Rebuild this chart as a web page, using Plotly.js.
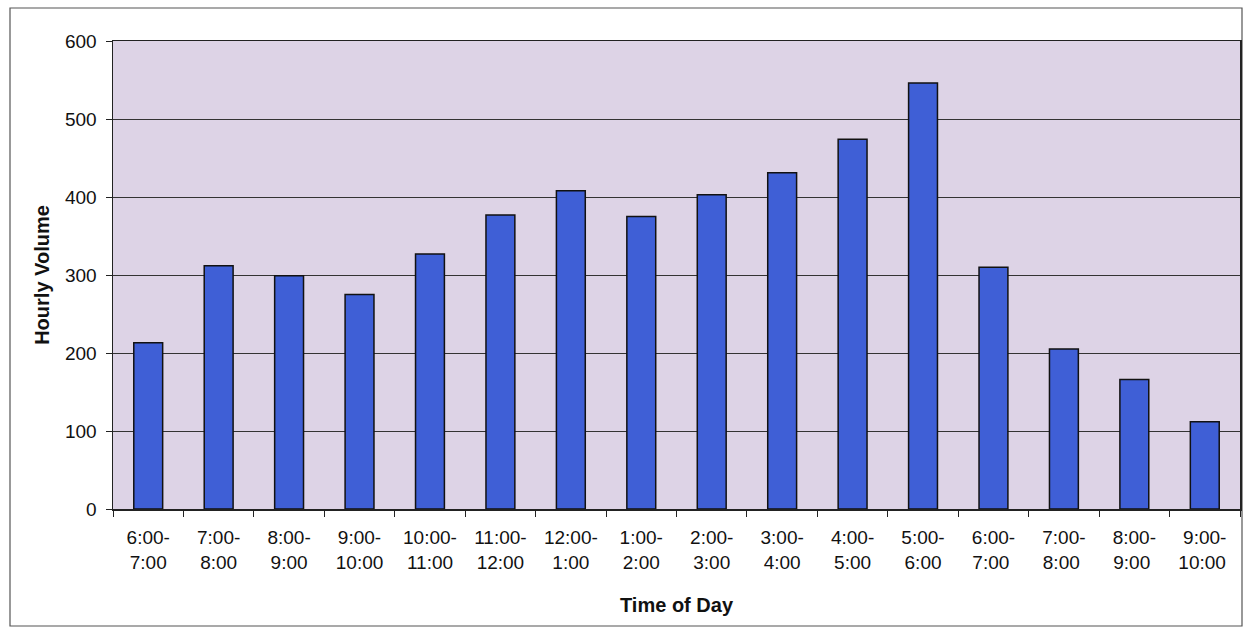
<!DOCTYPE html>
<html>
<head>
<meta charset="utf-8">
<script src="https://cdn.plot.ly/plotly-3.0.1.min.js"></script>
<style>
  html, body { margin: 0; padding: 0; background: #ffffff; }
  #chart { width: 1243px; height: 630px; }
</style>
</head>
<body>
<div id="chart"></div>
<script>
const categories = ["6:00-<br>7:00", "7:00-<br>8:00", "8:00-<br>9:00", "9:00-<br>10:00",
  "10:00-<br>11:00", "11:00-<br>12:00", "12:00-<br>1:00", "1:00-<br>2:00",
  "2:00-<br>3:00", "3:00-<br>4:00", "4:00-<br>5:00", "5:00-<br>6:00",
  "6:00-<br>7:00 ", "7:00-<br>8:00 ", "8:00-<br>9:00 ", "9:00-<br>10:00 "];
const hourlyVolume = [213, 312, 299, 275, 327, 377, 408, 375, 403, 431, 474, 546, 310, 205, 166, 112];
const yTicks = [0, 100, 200, 300, 400, 500, 600];

const ML = 113, MR = 3, MT = 41, MB = 121, W = 1243, H = 630;
const pw = W - ML - MR, ph = H - MT - MB;
const px = v => (v - ML) / pw;
const py = v => 1 - (v - MT) / ph;

const trace = {
  type: 'bar',
  x: categories,
  y: hourlyVolume,
  marker: { color: '#3f5fd6', line: { color: '#111111', width: 1.5 } },
  hoverinfo: 'x+y'
};

const layout = {
  width: W, height: H,
  margin: { l: ML, r: MR, t: MT, b: MB },
  paper_bgcolor: '#ffffff',
  plot_bgcolor: '#ddd3e6',
  bargap: 0.59,
  showlegend: false,
  font: { family: 'Liberation Sans, Arial, sans-serif', color: '#111111', size: 18 },
  xaxis: {
    type: 'category',
    showgrid: false,
    showline: true, linecolor: '#222222', linewidth: 1.5, mirror: true,
    ticks: 'outside', ticklen: 6, tickcolor: '#222222', tickson: 'boundaries',
    ticklabelstandoff: 11,
    tickfont: { size: 19 },
    title: { text: '<b>Time of Day</b>', font: { size: 20 }, standoff: 26 },
    automargin: false
  },
  yaxis: {
    range: [0, 600],
    tickvals: yTicks,
    showgrid: true, gridcolor: '#333333', gridwidth: 1,
    zeroline: false,
    showline: true, linecolor: '#222222', linewidth: 1.5, mirror: true,
    ticks: 'outside', ticklen: 6, tickcolor: '#222222',
    ticklabelstandoff: 5,
    tickfont: { size: 19 },
    title: { text: '<b>Hourly Volume</b>', font: { size: 20 }, standoff: 10 },
    automargin: false
  },
  shapes: [
    { type: 'rect', xref: 'paper', yref: 'paper', layer: 'below',
      x0: px(10), x1: px(1242), y0: py(626), y1: py(8),
      line: { color: '#555555', width: 1.2 }, fillcolor: 'rgba(0,0,0,0)' }
  ]
};

Plotly.newPlot('chart', [trace], layout, { displayModeBar: false, staticPlot: true });
</script>
</body>
</html>
